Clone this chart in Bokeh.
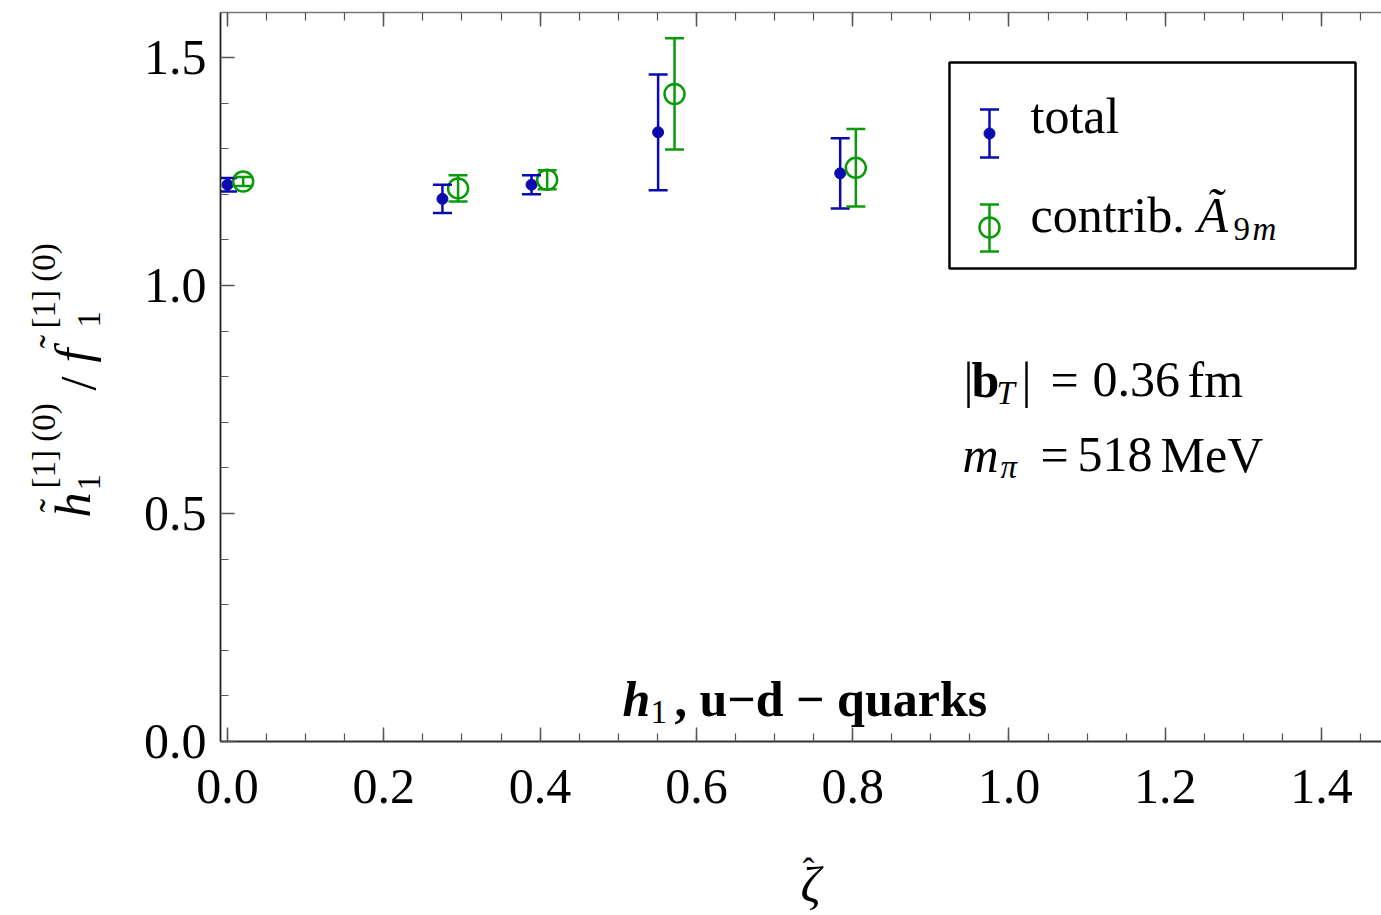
from bokeh.plotting import figure
from bokeh.models import (Range1d, FixedTicker, LinearAxis, Whisker, ColumnDataSource,
                          TeeHead, Label, BoxAnnotation, CustomJSTickFormatter)
from bokeh.layouts import row, column
from bokeh.embed import file_html
from bokeh.resources import INLINE

# ---------------- data ----------------
total_x = [0.000, 0.275, 0.389, 0.551, 0.784]
total_y = [1.221, 1.190, 1.221, 1.336, 1.246]
total_err = [0.015, 0.031, 0.021, 0.127, 0.077]

contrib_x = [0.020, 0.295, 0.409, 0.572, 0.804]
contrib_y = [1.228, 1.213, 1.232, 1.420, 1.258]
contrib_err = [0.010, 0.029, 0.021, 0.122, 0.085]

x_ticks = [0.0, 0.2, 0.4, 0.6, 0.8, 1.0, 1.2, 1.4]
x_tick_labels = ["0.0", "0.2", "0.4", "0.6", "0.8", "1.0", "1.2", "1.4"]
y_ticks = [0.0, 0.5, 1.0, 1.5]
y_tick_labels = ["0.0", "0.5", "1.0", "1.5"]

BLUE = "#0a0ab0"
GREEN = "#0a9a0a"
FONT = "Liberation Serif"
FS = 50
FS_SMALL = 33
SHIFT = 0.36  # baseline correction (fraction of font size)

# ---------------- layout ----------------
W, H = 1381, 915
YL_W = 130          # width of the strip holding the y-axis title
H1 = 835            # height of the upper row
FRAME_L, FRAME_R, FRAME_T, FRAME_B = 220, 1381, 12, 741
X0 = -0.009
PX_PER_X = 781.46

xr = Range1d(X0, X0 + (FRAME_R - FRAME_L) / PX_PER_X)
yr = Range1d(0.0, 1.5987)

p = figure(width=W - YL_W, height=H1, x_range=xr, y_range=yr, output_backend="svg",
           toolbar_location=None, min_border_left=FRAME_L - YL_W, min_border_right=W - FRAME_R,
           min_border_top=FRAME_T, min_border_bottom=H1 - FRAME_B,
           background_fill_color="white", border_fill_color="white")
p.grid.visible = False
p.outline_line_color = None


def dx(px):
    return xr.start + (px - FRAME_L) / (FRAME_R - FRAME_L) * (xr.end - xr.start)


def dy(py):
    return yr.start + (FRAME_B - py) / (FRAME_B - FRAME_T) * (yr.end - yr.start)


x_minor = [round(0.05 * i, 2) for i in range(0, 30)]
y_minor = [round(0.1 * i, 2) for i in range(0, 17)]
xticker = FixedTicker(ticks=x_ticks, minor_ticks=x_minor)
yticker = FixedTicker(ticks=y_ticks, minor_ticks=y_minor)


def style_axis(ax, line_color="black"):
    ax.axis_line_color = line_color
    ax.axis_line_width = 1.8
    ax.major_tick_line_color = "#555555"
    ax.major_tick_line_width = 1.5
    ax.minor_tick_line_color = "#555555"
    ax.minor_tick_line_width = 1.2
    ax.major_tick_in = 14
    ax.major_tick_out = 0
    ax.minor_tick_in = 8
    ax.minor_tick_out = 0
    ax.major_label_text_font = FONT
    ax.major_label_text_font_size = f"{FS}px"
    ax.major_label_text_color = "black"


xa = p.xaxis[0]
xa.ticker = xticker
xa.major_label_overrides = {t: l for t, l in zip(x_ticks, x_tick_labels)}
style_axis(xa, "#333333")
xa.major_label_standoff = 28

ya = p.yaxis[0]
ya.ticker = yticker
ya.major_label_overrides = {t: l for t, l in zip(y_ticks, y_tick_labels)}
style_axis(ya, "#222222")
ya.major_label_standoff = 14

top_ax = LinearAxis(ticker=xticker, formatter=CustomJSTickFormatter(code="return ''"))
style_axis(top_ax, "#777777")
top_ax.axis_line_width = 1.5
top_ax.major_label_standoff = 0
p.add_layout(top_ax, "above")

# ---------------- data marks ----------------
src_t = ColumnDataSource(dict(x=total_x, y=total_y,
                              lo=[v - e for v, e in zip(total_y, total_err)],
                              hi=[v + e for v, e in zip(total_y, total_err)]))
src_c = ColumnDataSource(dict(x=contrib_x, y=contrib_y,
                              lo=[v - e for v, e in zip(contrib_y, contrib_err)],
                              hi=[v + e for v, e in zip(contrib_y, contrib_err)]))


def errbars(src, col, level):
    p.add_layout(Whisker(source=src, base="x", lower="lo", upper="hi", dimension="height",
                         line_color=col, line_width=2.5, level=level,
                         upper_head=TeeHead(size=19, line_color=col, line_width=2.5),
                         lower_head=TeeHead(size=19, line_color=col, line_width=2.5)))


errbars(src_t, BLUE, "glyph")
errbars(src_c, GREEN, "glyph")
p.scatter("x", "y", source=src_t, size=11, fill_color=BLUE, line_color=BLUE)
p.scatter("x", "y", source=src_c, size=20, fill_color=None, line_color=GREEN, line_width=2.5)

# ---------------- legend (drawn by hand) ----------------
p.add_layout(BoxAnnotation(left=dx(949), right=dx(1355), top=dy(62), bottom=dy(268),
                           fill_color="white", fill_alpha=1.0, line_color="black",
                           line_alpha=1.0, line_width=2.5, level="underlay"))
leg_t = ColumnDataSource(dict(x=[dx(989)], y=[dy(133)], lo=[dy(157)], hi=[dy(109)]))
leg_c = ColumnDataSource(dict(x=[dx(989)], y=[dy(227)], lo=[dy(251)], hi=[dy(204)]))
errbars(leg_t, BLUE, "glyph")
errbars(leg_c, GREEN, "glyph")
p.scatter("x", "y", source=leg_t, size=11, fill_color=BLUE, line_color=BLUE)
p.scatter("x", "y", source=leg_c, size=20, fill_color=None, line_color=GREEN, line_width=2.5)


def lab(fig, text, x, y, size=FS, style="normal", align="left"):
    fig.add_layout(Label(x=x, y=y, text=text, text_font=FONT, text_font_size=f"{size}px",
                         text_font_style=style, text_align=align, text_baseline="alphabetic",
                         text_color="black", level="overlay"))


def mlab(text, px, py, size=FS, style="normal", align="left"):
    lab(p, text, dx(px), dy(py - SHIFT * size), size, style, align)


mlab("total", 1030, 133)
mlab("contrib.", 1030, 232)
mlab("Ã", 1197, 232, style="italic")
mlab("9", 1233, 240, size=FS_SMALL)
mlab("m", 1252, 240, size=FS_SMALL, style="italic")

mlab("|", 963, 397)
mlab("b", 971, 397, style="bold")
mlab("T", 996, 404, size=FS_SMALL, style="italic")
mlab("|", 1021, 397)
mlab("=", 1050, 397)
mlab("0.36", 1092, 397)
mlab("fm", 1187, 397)

mlab("m", 962, 472, style="italic")
mlab("π", 1000, 478, size=FS_SMALL, style="italic")
mlab("=", 1040, 472)
mlab("518", 1077, 472)
mlab("MeV", 1160, 472)

mlab("h", 622, 716, style="bold italic")
mlab("1", 650, 723, size=FS_SMALL)
mlab(", u\u2212d \u2212 quarks", 674, 716, style="bold")

# ---------------- y-axis title strip ----------------
# its frame is aligned with the main frame (rows align plot frames), so map the same span
yl = figure(width=YL_W, height=H1, x_range=Range1d(0, YL_W), y_range=Range1d(FRAME_B, FRAME_T),
            x_axis_type=None, y_axis_type=None, output_backend="svg", toolbar_location=None,
            min_border=0, outline_line_color=None, background_fill_color="white",
            border_fill_color="white")


def rlab(text, bx, sy, size=FS, style="normal", align="left"):
    yl.add_layout(Label(x=bx - SHIFT * size, y=sy, text=text, text_font=FONT,
                        text_font_size=f"{size}px", text_font_style=style, text_align=align,
                        text_baseline="alphabetic", angle=90, angle_units="deg",
                        text_color="black"))


rlab("h", 90, 517, style="italic")
rlab("\u02dc", 67, 505, size=40, align="center")
rlab("1", 100, 490, size=FS_SMALL)
rlab("[1] (0)", 55, 488, size=FS_SMALL)
rlab("/", 95, 390)
rlab("f", 90, 362, style="italic")
rlab("\u02dc", 67, 341, size=40, align="center")
rlab("1", 100, 327, size=FS_SMALL)
rlab("[1] (0)", 55, 328, size=FS_SMALL)

# ---------------- x-axis title strip ----------------
xl = figure(width=W, height=H - H1, x_range=Range1d(0, W), y_range=Range1d(H, H1),
            x_axis_type=None, y_axis_type=None, output_backend="svg", toolbar_location=None,
            min_border=0, outline_line_color=None, background_fill_color="white",
            border_fill_color="white")
lab(xl, "ζ", 800, 902 - SHIFT * FS, style="italic")
lab(xl, "\u02c6", 802, 883 - SHIFT * 36, size=36)

layout = column(row(yl, p), xl)
open("out.html", "w").write(file_html(layout, INLINE))
